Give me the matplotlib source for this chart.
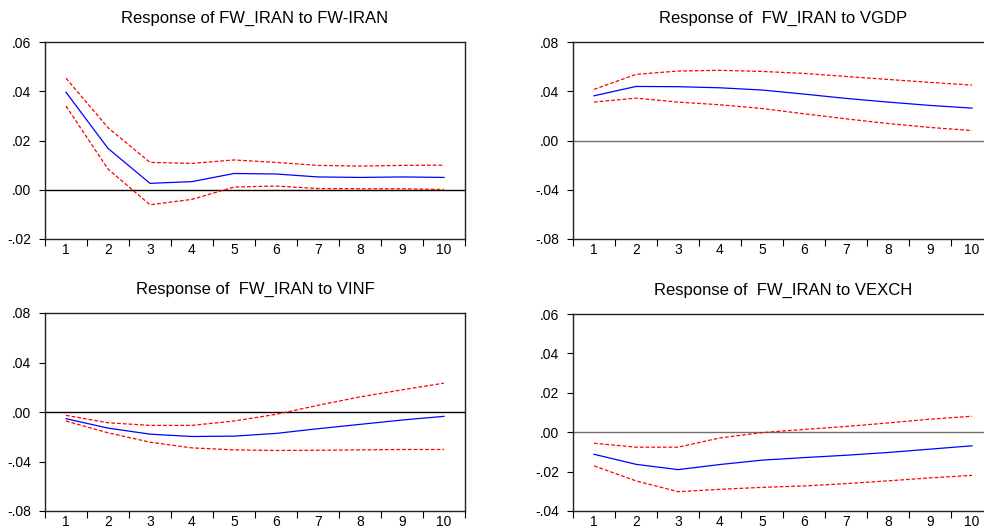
import numpy as np
import matplotlib
matplotlib.use("Agg")
import matplotlib.pyplot as plt
from matplotlib.ticker import FixedLocator, FuncFormatter

plt.rcParams["font.family"] = ["Liberation Sans", "DejaVu Sans"]

periods = np.arange(1, 11)

# Response of FW_IRAN to FW-IRAN
fw_resp = [0.0396, 0.0168, 0.0026, 0.0033, 0.0066, 0.0064, 0.0052, 0.0050, 0.0052, 0.0050]
fw_upper = [0.0453, 0.0252, 0.0111, 0.0107, 0.0121, 0.0111, 0.0099, 0.0096, 0.0099, 0.0100]
fw_lower = [0.0340, 0.0084, -0.0061, -0.0039, 0.0011, 0.0015, 0.0005, 0.0004, 0.0004, 0.0001]

# Response of FW_IRAN to VGDP
gdp_resp = [0.0363, 0.0439, 0.0437, 0.0428, 0.0410, 0.0377, 0.0342, 0.0312, 0.0285, 0.0263]
gdp_upper = [0.0415, 0.0537, 0.0564, 0.0570, 0.0561, 0.0545, 0.0520, 0.0496, 0.0472, 0.0450]
gdp_lower = [0.0312, 0.0344, 0.0312, 0.0290, 0.0260, 0.0217, 0.0176, 0.0138, 0.0106, 0.0081]

# Response of FW_IRAN to VINF
inf_resp = [-0.0054, -0.0130, -0.0179, -0.0198, -0.0195, -0.0173, -0.0135, -0.0100, -0.0065, -0.0035]
inf_upper = [-0.0027, -0.0087, -0.0108, -0.0108, -0.0073, -0.0019, 0.0054, 0.0122, 0.0179, 0.0233]
inf_lower = [-0.0073, -0.0168, -0.0244, -0.0290, -0.0306, -0.0311, -0.0309, -0.0306, -0.0303, -0.0303]

# Response of FW_IRAN to VEXCH
exch_resp = [-0.0112, -0.0163, -0.0190, -0.0164, -0.0142, -0.0129, -0.0117, -0.0103, -0.0086, -0.0069]
exch_upper = [-0.0056, -0.0076, -0.0076, -0.0029, -0.0002, 0.0014, 0.0029, 0.0047, 0.0066, 0.0081]
exch_lower = [-0.0171, -0.0247, -0.0302, -0.0290, -0.0280, -0.0273, -0.0261, -0.0247, -0.0232, -0.0219]

panels = [
    ("Response of FW_IRAN to FW-IRAN", fw_resp, fw_upper, fw_lower,
     (-0.02, 0.06), [-0.02, 0.0, 0.02, 0.04, 0.06], "black"),
    ("Response of  FW_IRAN to VGDP", gdp_resp, gdp_upper, gdp_lower,
     (-0.08, 0.08), [-0.08, -0.04, 0.0, 0.04, 0.08], "#707070"),
    ("Response of  FW_IRAN to VINF", inf_resp, inf_upper, inf_lower,
     (-0.08, 0.08), [-0.08, -0.04, 0.0, 0.04, 0.08], "black"),
    ("Response of  FW_IRAN to VEXCH", exch_resp, exch_upper, exch_lower,
     (-0.04, 0.06), [-0.04, -0.02, 0.0, 0.02, 0.04, 0.06], "#707070"),
]

W, H = 984, 529
# pixel boxes: left, top, right, bottom
boxes = [(45, 42, 465, 239), (573, 42, 993, 239),
         (45, 313, 465, 511), (573, 314, 993, 511)]


def fmt(v, _):
    s = "%.2f" % v
    if s.startswith("-0"):
        return "-" + s[2:]
    if s.startswith("0"):
        return s[1:]
    return s


fig = plt.figure(figsize=(W / 100, H / 100), dpi=100)
for (title, resp, up, lo, ylim, yt, zc), (l, t, r, b) in zip(panels, boxes):
    ax = fig.add_axes([l / W, 1 - b / H, (r - l) / W, (b - t) / H])
    ax.axhline(0, color=zc, lw=1.0, zorder=1)
    ax.plot(periods, up, color="red", lw=0.9, ls=(0, (3, 1.6)), zorder=2)
    ax.plot(periods, lo, color="red", lw=0.9, ls=(0, (3, 1.6)), zorder=2)
    ax.plot(periods, resp, color="blue", lw=0.9, zorder=3)
    ax.set_xlim(0.5, 10.5)
    ax.set_ylim(*ylim)
    ax.set_yticks(yt)
    ax.yaxis.set_major_formatter(FuncFormatter(fmt))
    ax.xaxis.set_major_locator(FixedLocator(np.arange(0.5, 11, 1)))
    ax.xaxis.set_minor_locator(FixedLocator(periods))
    ax.set_xticklabels([])
    ax.set_xticklabels([str(p) for p in periods], minor=True)
    ax.tick_params(axis="x", which="major", direction="out", length=5, width=0.8)
    ax.tick_params(axis="x", which="minor", length=0, pad=3, labelsize=10)
    ax.tick_params(axis="y", direction="out", length=4, width=0.8, labelsize=10, pad=6)
    for s in ax.spines.values():
        s.set_linewidth(1.0)
        s.set_color("#222222")
    ax.set_title(title, fontsize=12, pad=14)

fig.savefig("out.png", dpi=100)
